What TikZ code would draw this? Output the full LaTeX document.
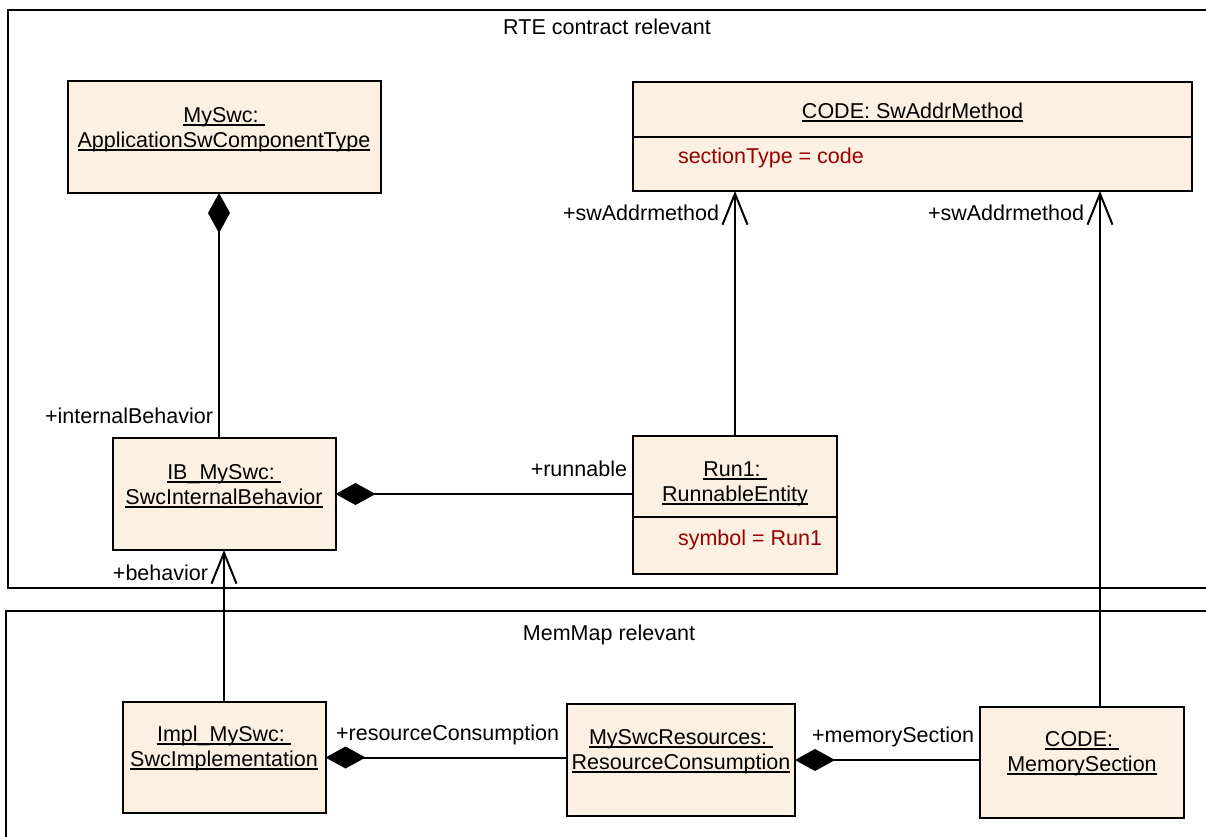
\documentclass[tikz,border=0pt]{standalone}
\usepackage{fontspec}
\setmainfont{Liberation Sans}
\usetikzlibrary{arrows.meta}
\definecolor{boxfill}{RGB}{251,240,226}
\definecolor{attrred}{RGB}{153,0,0}
\newsavebox\ulbox
\newcommand\ulx[1]{\sbox\ulbox{#1}\rlap{\rule[-3.5pt]{\wd\ulbox}{1.5pt}}\usebox\ulbox}
\begin{document}
\begin{tikzpicture}[x=1pt,y=-1pt,
  every node/.style={font=\fontsize{21.5}{25}\selectfont, inner sep=0pt, outer sep=0pt},
  umlbox/.style={draw, line width=2pt, fill=boxfill, rectangle},
  frame/.style={draw, line width=2pt},
  comp/.style={draw, line width=2pt, {Diamond[length=40pt,width=22pt]}-},
  nav/.style={draw, line width=2pt, -{Straight Barb[length=31pt,width=25pt]}},
  txt/.style={anchor=base},
  role/.style={anchor=base east},
  attrtxt/.style={anchor=base west, text=attrred}]
\useasboundingbox (0,0) rectangle (1206,836);
\fill[white] (0,0) rectangle (1206,836);
\clip (0,0) rectangle (1206,836);
% frames
\draw[frame] (8,10) rectangle (1230,588);
\draw[frame] (6,611) rectangle (1230,860);
\node[txt] (f1) at (607,34) {RTE contract relevant};
\node[txt] (f2) at (609,640) {MemMap relevant};
% boxes
\node[umlbox, minimum width=313pt, minimum height=112pt] (myswc) at (224,137) {};
\node[txt] (myswc1) at (224,122) {\ulx{MySwc:\ }};
\node[txt] (myswc2) at (224,147) {\ulx{ApplicationSwComponentType}};

\node[umlbox, minimum width=559pt, minimum height=109pt] (sam) at (912.5,136.5) {};
\node[txt] (sam1) at (912.5,118) {\ulx{CODE: SwAddrMethod}};
\draw[line width=2pt] (sam.west) -- (sam.east);
\node[attrtxt] (sam2) at (678,163) {sectionType = code};

\node[umlbox, minimum width=223pt, minimum height=112pt] (ib) at (224,494) {};
\node[txt] (ib1) at (224,479) {\ulx{IB\_MySwc:\ }};
\node[txt] (ib2) at (224,504) {\ulx{SwcInternalBehavior}};

\node[umlbox, minimum width=204pt, minimum height=138pt] (run) at (735,505) {};
\node[txt] (run1) at (735,476) {\ulx{Run1:\ }};
\node[txt] (run2) at (735,501) {\ulx{RunnableEntity}};
\draw[line width=2pt] ([yshift=-12pt]run.west) -- ([yshift=-12pt]run.east);
\node[attrtxt] (run3) at (678,545) {symbol = Run1};

\node[umlbox, minimum width=203pt, minimum height=111pt] (impl) at (224,757.5) {};
\node[txt] (impl1) at (224,741) {\ulx{Impl\_MySwc:\ }};
\node[txt] (impl2) at (224,766) {\ulx{SwcImplementation}};

\node[umlbox, minimum width=228pt, minimum height=112pt] (res) at (681,760) {};
\node[txt] (res1) at (681,744) {\ulx{MySwcResources:\ }};
\node[txt] (res2) at (681,769) {\ulx{ResourceConsumption}};

\node[umlbox, minimum width=204pt, minimum height=111pt] (mem) at (1082,762.5) {};
\node[txt] (mem1) at (1082,746) {\ulx{CODE:\ }};
\node[txt] (mem2) at (1082,771) {\ulx{MemorySection}};

% connectors
\draw[comp] ([xshift=-5pt]myswc.south) -- ([xshift=-5pt]ib.north);
\node[role] (r1) at (213,423) {+internalBehavior};

\draw[comp] (ib.east) -- (ib.east -| run.west);
\node[role] (r2) at (627,476) {+runnable};

\draw[nav] (run.north) -- (run.north |- sam.south);
\node[role] (r3) at (719,220) {+swAddrmethod};

\draw[nav] ([xshift=18pt]mem.north) -- ([xshift=18pt]mem.north |- sam.south);
\node[role] (r4) at (1084,220) {+swAddrmethod};

\draw[nav] (impl.north) -- (ib.south);
\node[role] (r5) at (208,580) {+behavior};

\draw[comp] (impl.east) -- (impl.east -| res.west);
\node[role] (r6) at (559,740) {+resourceConsumption};

\draw[comp] (res.east) -- (res.east -| mem.west);
\node[role] (r7) at (974,742) {+memorySection};
\end{tikzpicture}
\end{document}
